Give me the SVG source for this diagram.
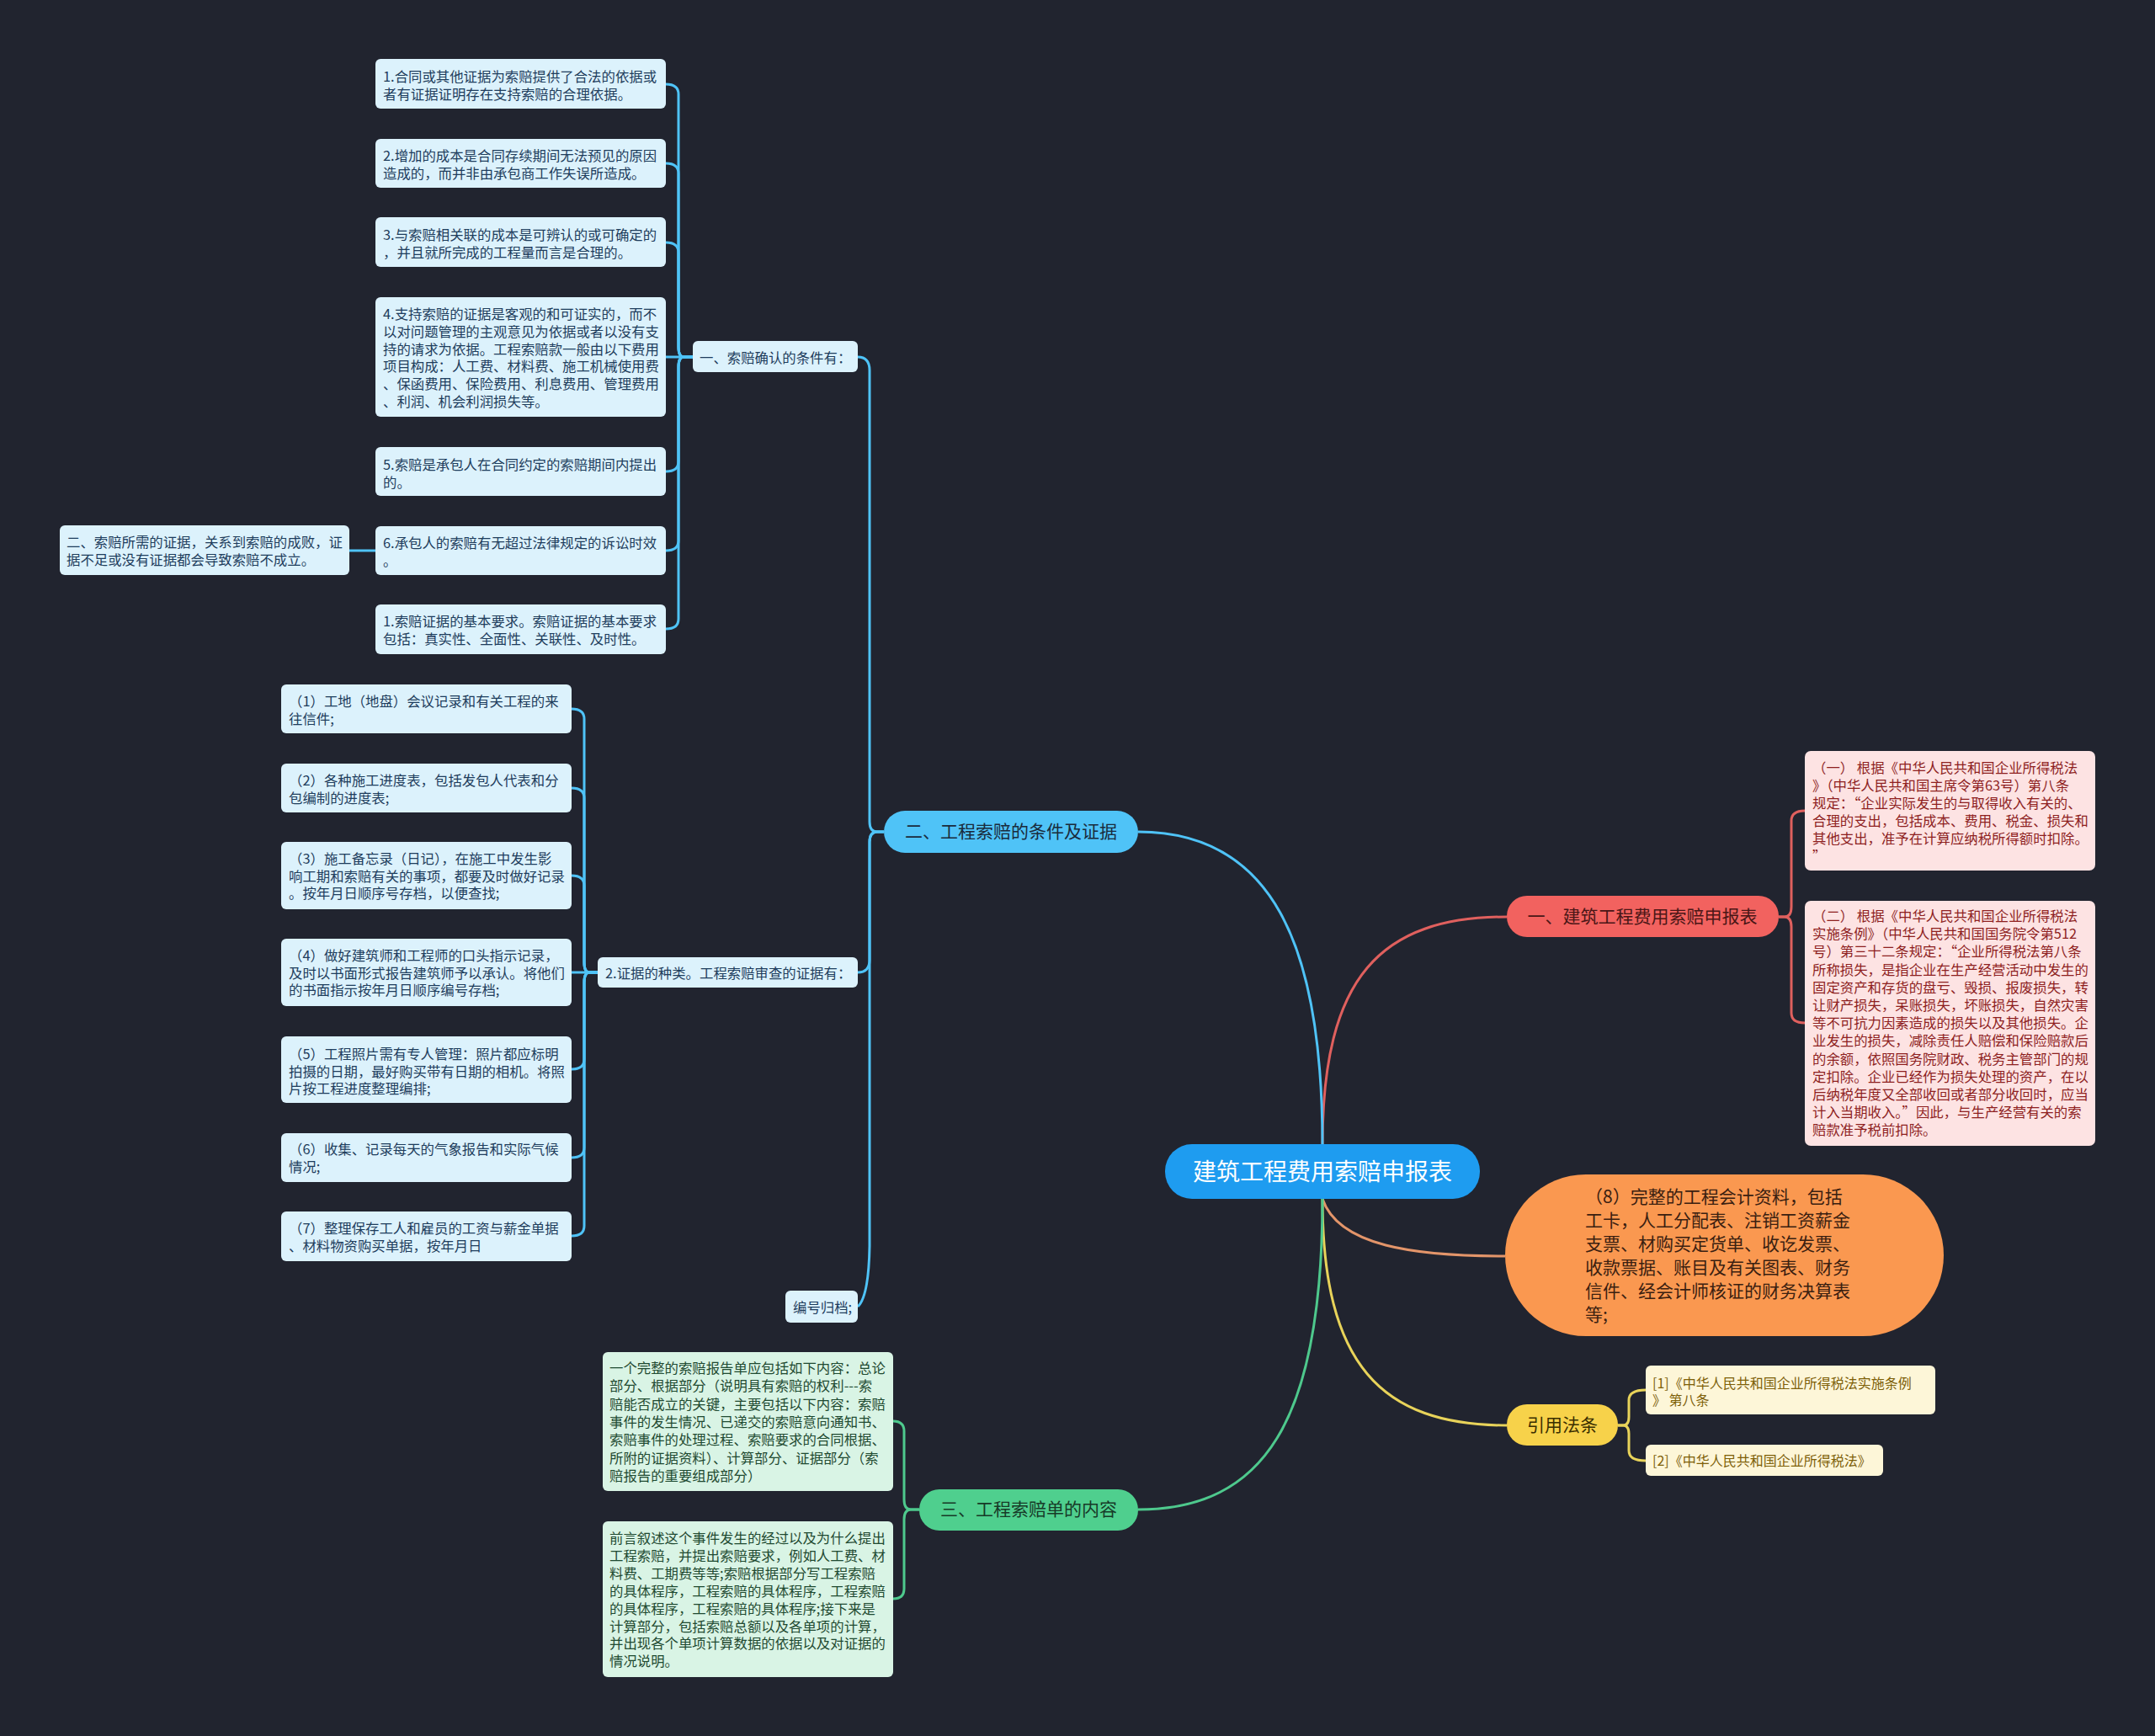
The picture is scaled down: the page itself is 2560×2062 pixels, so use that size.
<svg xmlns="http://www.w3.org/2000/svg" width="2560" height="2062" viewBox="0 0 2560 2062">
<style>
text{font-family:"Noto Sans CJK SC","Noto Sans",sans-serif;}
.bg{fill:#21242f;}
.lb{fill:#dcf2fc;}
.lbt{fill:#1e3d5c;font-size:16.4px;}
.pk{fill:#fde3e3;}
.pkt{fill:#8e1f1f;font-size:16.4px;}
.mt{fill:#d9f4e5;}
.mtt{fill:#1f4a31;font-size:16.4px;}
.cr{fill:#fdf6d8;}
.crt{fill:#7d6008;font-size:16px;}
.c-blue{fill:none;stroke:#4fc3f7;stroke-width:3;}
.c-red{fill:none;stroke:#e0605e;stroke-width:3;}
.c-or{fill:none;stroke:#e3956a;stroke-width:3;}
.c-yel{fill:none;stroke:#e8d35a;stroke-width:3;}
.c-grn{fill:none;stroke:#4ec98d;stroke-width:3;}
.bt{font-size:21px;text-anchor:middle;}
</style>
<rect class="bg" x="0" y="0" width="2560" height="2062"/>

<g id="connectors">
  <!-- central to main branches -->
  <path class="c-red" d="M1571 1360 C1571 1160 1640 1089 1790 1089"/>
  <path class="c-blue" d="M1571 1360 C1571 1120 1510 988 1352 988"/>
  <path class="c-or" d="M1571 1424 C1590 1480 1680 1492 1788 1492"/>
  <path class="c-yel" d="M1571 1424 C1571 1620 1640 1693 1790 1693"/>
  <path class="c-grn" d="M1571 1424 C1571 1690 1500 1793 1352 1793"/>
  <!-- red bracket -->
  <path class="c-red" d="M2113 1089 H2120 Q2128 1089 2128 1077 V975 Q2128 963 2144 963"/>
  <path class="c-red" d="M2113 1089 H2120 Q2128 1089 2128 1101 V1203 Q2128 1215 2144 1215"/>
  <!-- yellow bracket -->
  <path class="c-yel" d="M1922 1693 H1928 Q1935 1693 1935 1683 V1663 Q1935 1651 1955 1651"/>
  <path class="c-yel" d="M1922 1693 H1928 Q1935 1693 1935 1703 V1723 Q1935 1735 1955 1735"/>
  <!-- green bracket -->
  <path class="c-grn" d="M1092 1793 H1082 Q1074 1793 1074 1781 V1700 Q1074 1688 1061 1688"/>
  <path class="c-grn" d="M1092 1793 H1082 Q1074 1793 1074 1805 V1887 Q1074 1899 1061 1899"/>
  <!-- blue branch to sub-branches -->
  <path class="c-blue" d="M1050 988 H1042 Q1033 988 1033 976 V440 Q1033 424 1019 424"/>
  <path class="c-blue" d="M1050 988 H1042 Q1033 988 1033 1000 V1140 Q1033 1155 1019 1155"/>
  <path class="c-blue" d="M1050 988 H1042 Q1033 988 1033 1000 V1480 Q1032 1540 1019 1552"/>
  <!-- 一、索赔确认的条件有 children -->
  <path class="c-blue" d="M823 424 H812 Q806 424 806 412 V112 Q806 100 791 100"/>
  <path class="c-blue" d="M823 424 H812 Q806 424 806 412 V206 Q806 194 791 194"/>
  <path class="c-blue" d="M823 424 H812 Q806 424 806 412 V300 Q806 288 791 288"/>
  <path class="c-blue" d="M823 424 H791"/>
  <path class="c-blue" d="M823 424 H812 Q806 424 806 436 V548 Q806 560 791 560"/>
  <path class="c-blue" d="M823 424 H812 Q806 424 806 436 V642 Q806 654 791 654"/>
  <path class="c-blue" d="M823 424 H812 Q806 424 806 436 V735 Q806 747 791 747"/>
  <path class="c-blue" d="M446 654 H415"/>
  <!-- 2.证据的种类 children -->
  <path class="c-blue" d="M710 1155 H700 Q694 1155 694 1143 V854 Q694 842 679 842"/>
  <path class="c-blue" d="M710 1155 H700 Q694 1155 694 1143 V948 Q694 936 679 936"/>
  <path class="c-blue" d="M710 1155 H700 Q694 1155 694 1143 V1052 Q694 1040 679 1040"/>
  <path class="c-blue" d="M710 1155 H679"/>
  <path class="c-blue" d="M710 1155 H700 Q694 1155 694 1167 V1258 Q694 1270 679 1270"/>
  <path class="c-blue" d="M710 1155 H700 Q694 1155 694 1167 V1363 Q694 1375 679 1375"/>
  <path class="c-blue" d="M710 1155 H700 Q694 1155 694 1167 V1456 Q694 1468 679 1468"/>
</g>

<g id="central">
  <rect x="1384" y="1359" width="374" height="65" rx="32" fill="#1e9cf0"/>
  <text x="1571" y="1402" font-size="28" fill="#ffffff" text-anchor="middle">建筑工程费用索赔申报表</text>
</g>

<g id="branch-red">
  <rect x="1790" y="1064" width="323" height="49" rx="24" fill="#f2625f"/>
  <text class="bt" x="1951" y="1096" fill="#4a1616">一、建筑工程费用索赔申报表</text>
</g>
<g id="red-1">
  <rect class="pk" x="2144" y="892" width="345" height="142" rx="7"/>
  <text class="pkt" x="2153" y="918"><tspan x="2153">（一） 根据《中华人民共和国企业所得税法</tspan><tspan x="2153" dy="21">》（中华人民共和国主席令第63号）第八条</tspan><tspan x="2153" dy="21">规定：“企业实际发生的与取得收入有关的、</tspan><tspan x="2153" dy="21">合理的支出，包括成本、费用、税金、损失和</tspan><tspan x="2153" dy="21">其他支出，准予在计算应纳税所得额时扣除。</tspan><tspan x="2153" dy="21">”</tspan></text>
</g>
<g id="red-2">
  <rect class="pk" x="2144" y="1070" width="345" height="291" rx="7"/>
  <text class="pkt" x="2153" y="1094"><tspan x="2153">（二） 根据《中华人民共和国企业所得税法</tspan><tspan x="2153" dy="21.2">实施条例》（中华人民共和国国务院令第512</tspan><tspan x="2153" dy="21.2">号）第三十二条规定：“企业所得税法第八条</tspan><tspan x="2153" dy="21.2">所称损失，是指企业在生产经营活动中发生的</tspan><tspan x="2153" dy="21.2">固定资产和存货的盘亏、毁损、报废损失，转</tspan><tspan x="2153" dy="21.2">让财产损失，呆账损失，坏账损失，自然灾害</tspan><tspan x="2153" dy="21.2">等不可抗力因素造成的损失以及其他损失。企</tspan><tspan x="2153" dy="21.2">业发生的损失，减除责任人赔偿和保险赔款后</tspan><tspan x="2153" dy="21.2">的余额，依照国务院财政、税务主管部门的规</tspan><tspan x="2153" dy="21.2">定扣除。企业已经作为损失处理的资产，在以</tspan><tspan x="2153" dy="21.2">后纳税年度又全部收回或者部分收回时，应当</tspan><tspan x="2153" dy="21.2">计入当期收入。”因此，与生产经营有关的索</tspan><tspan x="2153" dy="21.2">赔款准予税前扣除。</tspan></text>
</g>

<g id="branch-orange">
  <rect x="1788" y="1395" width="521" height="192" rx="96" fill="#fa9850"/>
  <text x="1883" y="1429" font-size="21" fill="#3a2010"><tspan x="1883">（8）完整的工程会计资料，包括</tspan><tspan x="1883" dy="28">工卡，人工分配表、注销工资薪金</tspan><tspan x="1883" dy="28">支票、材购买定货单、收讫发票、</tspan><tspan x="1883" dy="28">收款票据、账目及有关图表、财务</tspan><tspan x="1883" dy="27.5">信件、经会计师核证的财务决算表</tspan><tspan x="1883" dy="28">等;</tspan></text>
</g>

<g id="branch-yellow">
  <rect x="1790" y="1668" width="132" height="49" rx="24" fill="#f7d24a"/>
  <text class="bt" x="1856" y="1700" fill="#3a2e00">引用法条</text>
</g>
<g id="yellow-1">
  <rect class="cr" x="1955" y="1622" width="344" height="58" rx="6"/>
  <text class="crt" x="1963" y="1649"><tspan x="1963">[1]《中华人民共和国企业所得税法实施条例</tspan><tspan x="1963" dy="20">》 第八条</tspan></text>
</g>
<g id="yellow-2">
  <rect class="cr" x="1955" y="1716" width="282" height="37" rx="6"/>
  <text class="crt" x="1963" y="1741">[2]《中华人民共和国企业所得税法》</text>
</g>

<g id="branch-blue">
  <rect x="1050" y="963" width="302" height="50" rx="25" fill="#4fc3f7"/>
  <text class="bt" x="1201" y="995" fill="#1a2b3c">二、工程索赔的条件及证据</text>
</g>
<g id="sub-conditions">
  <rect class="lb" x="823" y="405" width="196" height="37" rx="6"/>
  <text class="lbt" x="831" y="431" font-size="16">一、索赔确认的条件有：</text>
</g>
<g id="cond-1">
  <rect class="lb" x="446" y="70" width="345" height="59" rx="6"/>
  <text class="lbt" x="455" y="97"><tspan x="455">1.合同或其他证据为索赔提供了合法的依据或</tspan><tspan x="455" dy="20.5">者有证据证明存在支持索赔的合理依据。</tspan></text>
</g>
<g id="cond-2">
  <rect class="lb" x="446" y="165" width="345" height="58" rx="6"/>
  <text class="lbt" x="455" y="191"><tspan x="455">2.增加的成本是合同存续期间无法预见的原因</tspan><tspan x="455" dy="20.5">造成的，而并非由承包商工作失误所造成。</tspan></text>
</g>
<g id="cond-3">
  <rect class="lb" x="446" y="258" width="345" height="59" rx="6"/>
  <text class="lbt" x="455" y="285"><tspan x="455">3.与索赔相关联的成本是可辨认的或可确定的</tspan><tspan x="455" dy="20.5">，并且就所完成的工程量而言是合理的。</tspan></text>
</g>
<g id="cond-4">
  <rect class="lb" x="446" y="353" width="345" height="142" rx="6"/>
  <text class="lbt" x="455" y="379"><tspan x="455">4.支持索赔的证据是客观的和可证实的，而不</tspan><tspan x="455" dy="20.8">以对问题管理的主观意见为依据或者以没有支</tspan><tspan x="455" dy="20.8">持的请求为依据。工程索赔款一般由以下费用</tspan><tspan x="455" dy="20.8">项目构成：人工费、材料费、施工机械使用费</tspan><tspan x="455" dy="20.8">、保函费用、保险费用、利息费用、管理费用</tspan><tspan x="455" dy="20.8">、利润、机会利润损失等。</tspan></text>
</g>
<g id="cond-5">
  <rect class="lb" x="446" y="531" width="345" height="58" rx="6"/>
  <text class="lbt" x="455" y="558"><tspan x="455">5.索赔是承包人在合同约定的索赔期间内提出</tspan><tspan x="455" dy="20.5">的。</tspan></text>
</g>
<g id="cond-6">
  <rect class="lb" x="446" y="625" width="345" height="58" rx="6"/>
  <text class="lbt" x="455" y="651"><tspan x="455">6.承包人的索赔有无超过法律规定的诉讼时效</tspan><tspan x="455" dy="20.5">。</tspan></text>
</g>
<g id="cond-6-note">
  <rect class="lb" x="71" y="624" width="344" height="59" rx="6"/>
  <text class="lbt" x="79" y="650"><tspan x="79">二、索赔所需的证据，关系到索赔的成败，证</tspan><tspan x="79" dy="20.5">据不足或没有证据都会导致索赔不成立。</tspan></text>
</g>
<g id="cond-7">
  <rect class="lb" x="446" y="718" width="345" height="59" rx="6"/>
  <text class="lbt" x="455" y="744"><tspan x="455">1.索赔证据的基本要求。索赔证据的基本要求</tspan><tspan x="455" dy="20.5">包括：真实性、全面性、关联性、及时性。</tspan></text>
</g>

<g id="sub-evidence">
  <rect class="lb" x="710" y="1137" width="309" height="36" rx="6"/>
  <text class="lbt" x="719" y="1162" font-size="16">2.证据的种类。工程索赔审查的证据有：</text>
</g>
<g id="ev-1">
  <rect class="lb" x="334" y="813" width="345" height="58" rx="6"/>
  <text class="lbt" x="343" y="839"><tspan x="343">（1）工地（地盘）会议记录和有关工程的来</tspan><tspan x="343" dy="20.5">往信件;</tspan></text>
</g>
<g id="ev-2">
  <rect class="lb" x="334" y="907" width="345" height="58" rx="6"/>
  <text class="lbt" x="343" y="933"><tspan x="343">（2）各种施工进度表，包括发包人代表和分</tspan><tspan x="343" dy="20.5">包编制的进度表;</tspan></text>
</g>
<g id="ev-3">
  <rect class="lb" x="334" y="1000" width="345" height="80" rx="6"/>
  <text class="lbt" x="343" y="1026"><tspan x="343">（3）施工备忘录（日记），在施工中发生影</tspan><tspan x="343" dy="20.5">响工期和索赔有关的事项，都要及时做好记录</tspan><tspan x="343" dy="20.5">。按年月日顺序号存档，以便查找;</tspan></text>
</g>
<g id="ev-4">
  <rect class="lb" x="334" y="1115" width="345" height="80" rx="6"/>
  <text class="lbt" x="343" y="1141"><tspan x="343">（4）做好建筑师和工程师的口头指示记录，</tspan><tspan x="343" dy="20.5">及时以书面形式报告建筑师予以承认。将他们</tspan><tspan x="343" dy="20.5">的书面指示按年月日顺序编号存档;</tspan></text>
</g>
<g id="ev-5">
  <rect class="lb" x="334" y="1231" width="345" height="79" rx="6"/>
  <text class="lbt" x="343" y="1258"><tspan x="343">（5）工程照片需有专人管理：照片都应标明</tspan><tspan x="343" dy="20.5">拍摄的日期，最好购买带有日期的相机。将照</tspan><tspan x="343" dy="20.5">片按工程进度整理编排;</tspan></text>
</g>
<g id="ev-6">
  <rect class="lb" x="334" y="1346" width="345" height="58" rx="6"/>
  <text class="lbt" x="343" y="1371"><tspan x="343">（6）收集、记录每天的气象报告和实际气候</tspan><tspan x="343" dy="20.5">情况;</tspan></text>
</g>
<g id="ev-7">
  <rect class="lb" x="334" y="1439" width="345" height="59" rx="6"/>
  <text class="lbt" x="343" y="1465"><tspan x="343">（7）整理保存工人和雇员的工资与薪金单据</tspan><tspan x="343" dy="20.5">、材料物资购买单据，按年月日</tspan></text>
</g>
<g id="sub-archive">
  <rect class="lb" x="933" y="1533" width="86" height="38" rx="6"/>
  <text class="lbt" x="942" y="1559" font-size="16">编号归档;</text>
</g>

<g id="branch-green">
  <rect x="1092" y="1769" width="260" height="49" rx="24" fill="#4fcf8e"/>
  <text class="bt" x="1222" y="1800" fill="#173a28">三、工程索赔单的内容</text>
</g>
<g id="green-1">
  <rect class="mt" x="716" y="1606" width="345" height="165" rx="6"/>
  <text class="mtt" x="724" y="1631"><tspan x="724">一个完整的索赔报告单应包括如下内容：总论</tspan><tspan x="724" dy="21.3">部分、根据部分（说明具有索赔的权利---索</tspan><tspan x="724" dy="21.3">赔能否成立的关键，主要包括以下内容：索赔</tspan><tspan x="724" dy="21.3">事件的发生情况、已递交的索赔意向通知书、</tspan><tspan x="724" dy="21.3">索赔事件的处理过程、索赔要求的合同根据、</tspan><tspan x="724" dy="21.3">所附的证据资料）、计算部分、证据部分（索</tspan><tspan x="724" dy="21.3">赔报告的重要组成部分）</tspan></text>
</g>
<g id="green-2">
  <rect class="mt" x="716" y="1807" width="345" height="185" rx="6"/>
  <text class="mtt" x="724" y="1833"><tspan x="724">前言叙述这个事件发生的经过以及为什么提出</tspan><tspan x="724" dy="20.9">工程索赔，并提出索赔要求，例如人工费、材</tspan><tspan x="724" dy="20.9">料费、工期费等等;索赔根据部分写工程索赔</tspan><tspan x="724" dy="20.9">的具体程序，工程索赔的具体程序，工程索赔</tspan><tspan x="724" dy="20.9">的具体程序，工程索赔的具体程序;接下来是</tspan><tspan x="724" dy="20.9">计算部分，包括索赔总额以及各单项的计算，</tspan><tspan x="724" dy="20.9">并出现各个单项计算数据的依据以及对证据的</tspan><tspan x="724" dy="20.9">情况说明。</tspan></text>
</g>
</svg>
